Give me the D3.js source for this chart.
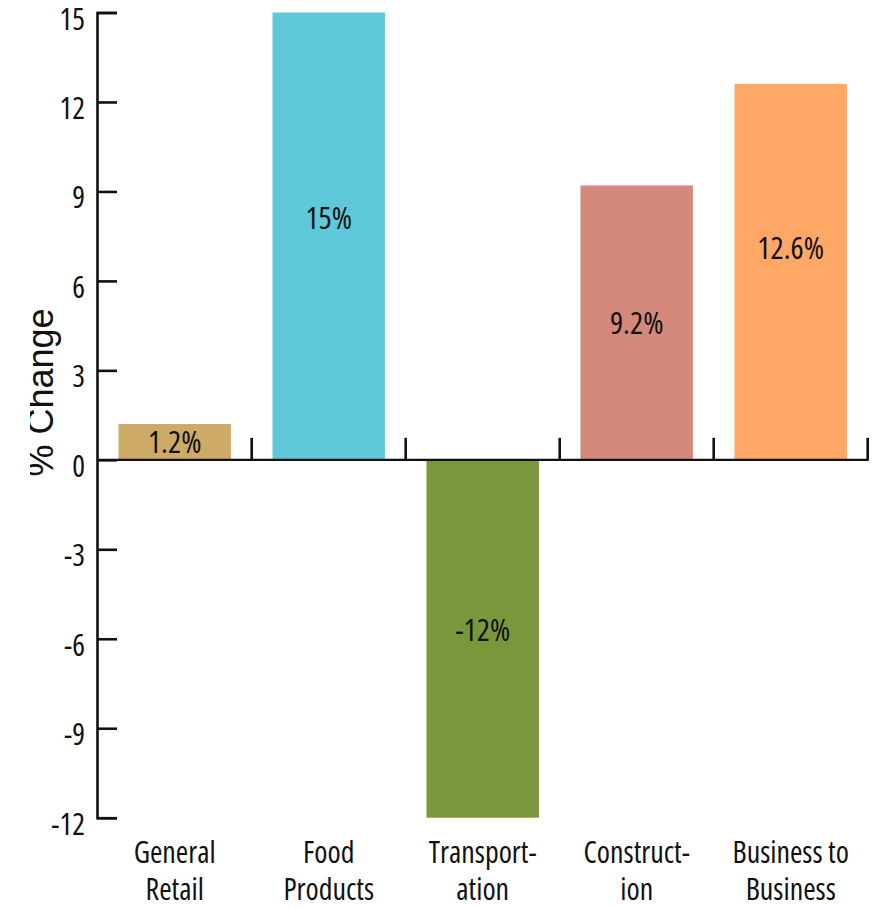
<!DOCTYPE html>
<html>
<head>
<meta charset="utf-8">
<script src="https://cdn.jsdelivr.net/npm/d3@7"></script>
<style>
  html, body { margin: 0; padding: 0; background: #fff; }
  svg { display: block; }
  .narrow { font-family: "Open Sans", sans-serif; font-stretch: condensed; }
</style>
</head>
<body>
<svg id="chart" width="884" height="908"></svg>
<script>
// Sector-level percentage change
const categories = [["General", "Retail"], ["Food", "Products"], ["Transport-", "ation"], ["Construct-", "ion"], ["Business to", "Business"]];
const values = [1.2, 15, -12, 9.2, 12.6];
const valueLabels = ["1.2%", "15%", "-12%", "9.2%", "12.6%"];
const colors = ["#CDAA66", "#5FC8D9", "#7A973C", "#D4897C", "#FFA866"];
const yTicks = [15, 12, 9, 6, 3, 0, -3, -6, -9, -12];
const yTitle = "% Change";

const svg = d3.select("#chart");
const keys = categories.map((c, i) => i);

const y = d3.scaleLinear().domain([-12, 15]).range([817.7, 12.5]);
const x = d3.scaleBand().domain(keys).range([97.7, 867.7])
  .paddingInner(0.27).paddingOuter(0.135);

// Bars
svg.append("g").selectAll("rect").data(values).join("rect")
  .attr("x", (d, i) => x(i))
  .attr("width", x.bandwidth())
  .attr("y", d => y(Math.max(0, d)))
  .attr("height", d => Math.abs(y(d) - y(0)))
  .attr("fill", (d, i) => colors[i]);

// Value labels inside bars (vertical nudge per bar, in px)
const labelNudge = [0, -18, -9, 0, -24];
svg.append("g").attr("class", "narrow").selectAll("text").data(values).join("text")
  .attr("x", (d, i) => x(i) + x.bandwidth() / 2)
  .attr("y", (d, i) => (y(d) + y(0)) / 2 + labelNudge[i])
  .attr("dy", "0.36em")
  .attr("text-anchor", "middle")
  .attr("font-size", 31)
  .attr("fill", "#111")
  .text((d, i) => valueLabels[i]);

// Y axis with inward ticks
const yAxis = svg.append("g")
  .attr("transform", "translate(97,0)")
  .call(d3.axisLeft(y).tickValues(yTicks).tickSizeInner(-20).tickSizeOuter(-20).tickPadding(12).tickFormat(d => String(d)));
yAxis.selectAll("path, line").attr("stroke", "#111").attr("stroke-width", 2.6);
yAxis.selectAll("text").attr("class", "narrow").attr("font-size", 30).attr("fill", "#111").attr("dy", "0.55em");

// Zero baseline with upward ticks at category boundaries
const base = svg.append("g");
base.append("line")
  .attr("x1", 97).attr("x2", x.range()[1] + 1)
  .attr("y1", y(0)).attr("y2", y(0))
  .attr("stroke", "#111").attr("stroke-width", 2.2);
base.selectAll("line.tick").data(keys).join("line").attr("class", "tick")
  .attr("x1", i => x.range()[0] + (i + 1) * x.step())
  .attr("x2", i => x.range()[0] + (i + 1) * x.step())
  .attr("y1", y(0)).attr("y2", y(0) - 22)
  .attr("stroke", "#111").attr("stroke-width", 2.6);

// Category labels (two lines)
const cat = svg.append("g").attr("class", "narrow").selectAll("text").data(categories).join("text")
  .attr("text-anchor", "middle")
  .attr("font-size", 30)
  .attr("fill", "#111");
cat.selectAll("tspan").data((d, i) => d.map(t => ({ t, i }))).join("tspan")
  .attr("x", d => x(d.i) + x.bandwidth() / 2)
  .attr("y", (d, j) => 863 + j * 37)
  .text(d => d.t);

// Y axis title, clipped at the left edge
svg.append("clipPath").attr("id", "titleClip")
  .append("rect").attr("x", 30).attr("y", 0).attr("width", 100).attr("height", 908);
svg.append("g")
  .attr("clip-path", "url(#titleClip)")
  .append("text")
  .attr("transform", "translate(53,392.5) rotate(-90)")
  .attr("text-anchor", "middle")
  .attr("font-family", "Liberation Sans, Arial, sans-serif")
  .attr("font-size", 36)
  .attr("fill", "#111")
  .text(yTitle);
</script>
</body>
</html>
